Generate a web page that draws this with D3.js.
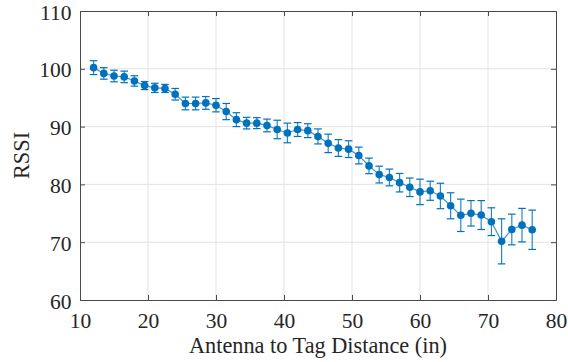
<!DOCTYPE html>
<meta charset="utf-8">
<style>
body{margin:0;background:white;}
text{font-family:'Liberation Serif','Times New Roman',serif;fill:#262626;}
</style>
<svg id='svg'></svg>
<script src="https://d3js.org/d3.v7.min.js"></script>
<script>

  var width = 568
  var height = 362
  var margin = {top: 11, right: 12, bottom: 62, left: 80}

  // distance (in)
  var dist = [12, 13.5, 15, 16.5, 18, 19.5, 21, 22.5, 24, 25.5, 27, 28.5, 30, 31.5, 33,
    34.5, 36, 37.5, 39, 40.5, 42, 43.5, 45, 46.5, 48, 49.5, 51, 52.5, 54, 55.5,
    57, 58.5, 60, 61.5, 63, 64.5, 66, 67.5, 69, 70.5, 72, 73.5, 75, 76.5]
  // mean rssi
  var rssi = [100.2, 99.2, 98.75, 98.6, 97.9, 97.1, 96.7, 96.6, 95.6, 94.0, 94.0, 94.1, 93.7, 92.6, 91.2,
    90.6, 90.6, 90.2, 89.5, 88.9, 89.5, 89.3, 88.3, 87.1, 86.3, 86.1, 85.0, 83.2, 81.7, 81.2,
    80.3, 79.5, 78.7, 78.9, 78.0, 76.3, 74.65, 75.0, 74.7, 73.55, 70.15, 72.2, 72.95, 72.15]
  // std dev (error bar half length)
  var err = [1.2, 1.0, 1.0, 1.0, 0.9, 0.7, 0.8, 0.7, 1.0, 1.1, 1.1, 1.1, 1.15, 1.4, 1.2,
    1.0, 0.95, 1.1, 1.6, 1.7, 1.2, 1.2, 1.3, 1.6, 1.45, 1.45, 1.45, 1.35, 1.45, 1.45,
    1.6, 1.6, 2.2, 1.65, 2.2, 2.25, 2.8, 2.2, 2.5, 2.4, 3.9, 2.65, 2.9, 3.4]

  var xTicks = [10, 20, 30, 40, 50, 60, 70, 80]
  var yTicks = [60, 70, 80, 90, 100, 110]

  var data = dist.map((d, i) => ({x: d, y: rssi[i], e: err[i]}))

  var svg = d3.select('#svg').attr('width', width).attr('height', height)

  var x = d3.scaleLinear().domain([10, 80]).range([margin.left, width - margin.right])
  var y = d3.scaleLinear().domain([60, 110]).range([height - margin.bottom, margin.top])

  var blue = '#0072BD'

  // grid
  svg.append('g').selectAll('line').data(xTicks.slice(1, -1)).enter().append('line')
    .attr('x1', d => x(d)).attr('x2', d => x(d))
    .attr('y1', y(60)).attr('y2', y(110))
    .attr('stroke', '#e3e3e3').attr('stroke-width', 1)
  svg.append('g').selectAll('line').data(yTicks.slice(1, -1)).enter().append('line')
    .attr('y1', d => y(d)).attr('y2', d => y(d))
    .attr('x1', x(10)).attr('x2', x(80))
    .attr('stroke', '#e3e3e3').attr('stroke-width', 1)

  // axes (ticks inward, box)
  var tk = 5
  var noLabel = () => ''
  var axB = d3.axisBottom(x).tickValues(xTicks).tickSize(-tk).tickPadding(12.5)
  var axL = d3.axisLeft(y).tickValues(yTicks).tickSize(-tk).tickPadding(8.5)
  var axT = d3.axisTop(x).tickValues(xTicks).tickSize(-tk).tickFormat(noLabel)
  var axR = d3.axisRight(y).tickValues(yTicks).tickSize(-tk).tickFormat(noLabel)

  var gb = svg.append('g').attr('transform', 'translate(0,' + y(60) + ')').call(axB)
  var gl = svg.append('g').attr('transform', 'translate(' + x(10) + ',0)').call(axL)
  var gt = svg.append('g').attr('transform', 'translate(0,' + y(110) + ')').call(axT)
  var gr = svg.append('g').attr('transform', 'translate(' + x(80) + ',0)').call(axR)

  ;[gb, gl, gt, gr].forEach(g => {
    g.select('.domain').attr('stroke', '#4a4a4a').attr('stroke-width', 1)
    g.selectAll('.tick line').attr('stroke', '#4a4a4a')
    g.selectAll('.tick text').style('font-size', '21.5px').attr('fill', '#262626')
      .style('font-family', "'Liberation Serif', serif")
  })
  gl.selectAll('.tick text').attr('dy', '0.38em')

  // line
  svg.append('path').datum(data)
    .attr('d', d3.line().x(d => x(d.x)).y(d => y(d.y)))
    .attr('fill', 'none').attr('stroke', blue).attr('stroke-opacity', 0.75).attr('stroke-width', 1.2)

  // error bars
  var cap = 3.8
  var eb = svg.append('g').attr('stroke', blue).attr('stroke-width', 1.2)
  eb.selectAll('.v').data(data).enter().append('line')
    .attr('x1', d => x(d.x)).attr('x2', d => x(d.x))
    .attr('y1', d => y(d.y - d.e)).attr('y2', d => y(d.y + d.e))
    .attr('stroke-opacity', 0.85)
  eb.selectAll('.lo').data(data).enter().append('line')
    .attr('x1', d => x(d.x) - cap).attr('x2', d => x(d.x) + cap)
    .attr('y1', d => y(d.y - d.e)).attr('y2', d => y(d.y - d.e))
  eb.selectAll('.hi').data(data).enter().append('line')
    .attr('x1', d => x(d.x) - cap).attr('x2', d => x(d.x) + cap)
    .attr('y1', d => y(d.y + d.e)).attr('y2', d => y(d.y + d.e))

  // markers
  svg.append('g').selectAll('circle').data(data).enter().append('circle')
    .attr('cx', d => x(d.x)).attr('cy', d => y(d.y)).attr('r', 3.8)
    .attr('fill', blue)

  // labels
  svg.append('text')
    .attr('x', (x(10) + x(80)) / 2).attr('y', 353)
    .attr('text-anchor', 'middle').style('font-size', '22.3px')
    .text('Antenna to Tag Distance (in)')

  svg.append('text')
    .attr('transform', 'translate(29,' + (y(60) + y(110)) / 2 + ') rotate(-90)')
    .attr('text-anchor', 'middle').style('font-size', '22.3px')
    .text('RSSI')

</script>
